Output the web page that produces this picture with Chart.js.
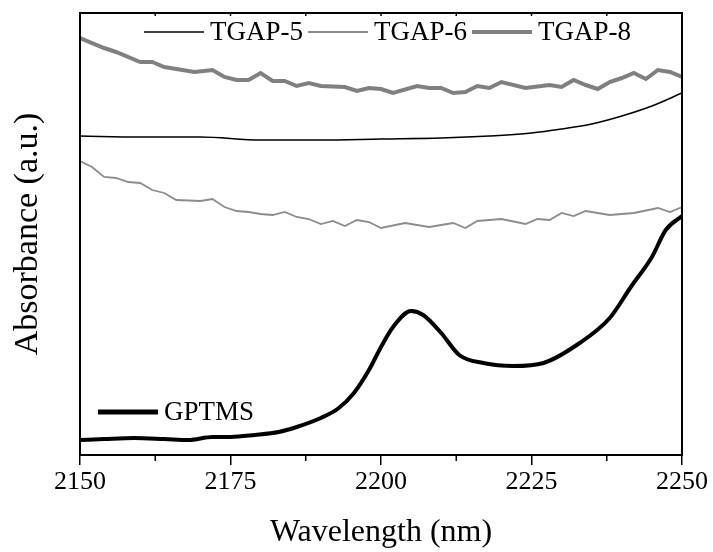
<!DOCTYPE html>
<html>
<head>
<meta charset="utf-8">
<script src="https://cdn.jsdelivr.net/npm/chart.js@4.4.1/dist/chart.umd.min.js"></script>
<style>
  html, body { margin: 0; padding: 0; background: #fff; }
  #wrap { width: 713px; height: 552px; }
</style>
</head>
<body>
<div id="wrap"><canvas id="absChart"></canvas></div>
<script>
// x-axis ticks (nm)
const xTicks = [2150, 2175, 2200, 2225, 2250];

// TGAP-8 (thick grey)
const tgap8Wl  = [2150, 2154, 2156, 2160, 2162, 2164, 2169, 2172, 2174, 2176, 2178, 2180, 2182, 2184, 2186, 2188, 2190, 2194, 2196, 2198, 2200, 2202, 2206, 2208, 2210, 2212, 2214, 2216, 2218, 2220, 2224, 2228, 2230, 2232, 2234, 2236, 2238, 2240, 2242, 2244, 2246, 2248, 2250];
const tgap8Abs = [417, 407, 403, 393, 393, 388, 383, 385, 378, 375, 375, 382, 374, 374, 369, 372, 369, 368, 364, 367, 366, 362, 369, 367, 367, 362, 363, 369, 367, 373, 367, 370, 368, 375, 370, 366, 373, 377, 382, 376, 385, 383, 378];

// TGAP-5 (thin black)
const tgap5Wl  = [2150, 2160, 2170, 2180, 2190, 2200, 2210, 2218, 2225, 2230, 2235, 2240, 2245, 2250];
const tgap5Abs = [319, 318, 318, 315, 315, 316, 317, 319, 322, 326, 331, 339, 349, 362];

// TGAP-6 (thin grey)
const tgap6Wl  = [2150, 2152, 2154, 2156, 2158, 2160, 2162, 2164, 2166, 2170, 2172, 2174, 2176, 2178, 2180, 2182, 2184, 2186, 2188, 2190, 2192, 2194, 2196, 2198, 2200, 2204, 2208, 2212, 2214, 2216, 2220, 2224, 2226, 2228, 2230, 2232, 2234, 2238, 2242, 2246, 2248, 2250];
const tgap6Abs = [294, 288, 278, 277, 273, 272, 265, 262, 255, 254, 256, 248, 244, 243, 241, 240, 243, 238, 236, 231, 234, 229, 235, 233, 227, 232, 228, 232, 227, 234, 236, 231, 236, 235, 242, 239, 244, 240, 242, 247, 243, 248];

// GPTMS (thick black)
const gptmsWl  = [2150, 2154, 2159, 2164, 2168, 2172, 2175, 2179, 2183, 2186, 2190, 2193, 2195.5, 2198, 2200, 2202, 2205, 2207, 2210, 2213, 2217, 2222, 2227, 2233, 2238, 2241.5, 2245, 2247.3, 2250];
const gptmsAbs = [15, 16, 17, 16, 15, 18, 18, 20, 23, 28, 37, 47, 62, 85, 108, 128, 144, 140, 122, 100, 92, 89, 92, 112, 137, 168, 198, 225, 239];

function pairs(xs, ys) {
    return xs.map((x, i) => ({x: x, y: ys[i]}));
}

const serif = "'Liberation Serif', 'Times New Roman', serif";

// frame, minor ticks and in-plot legends
const framePlugin = {
    id: 'frame',
    afterDraw(chart) {
        const ctx = chart.ctx;
        const a = chart.chartArea;
        const xs = chart.scales.x;
        ctx.save();
        ctx.strokeStyle = '#000';
        ctx.lineWidth = 2;
        ctx.strokeRect(a.left, a.top, a.right - a.left, a.bottom - a.top);
        ctx.lineWidth = 1.5;
        for (let v = 2150; v <= 2250; v += 12.5) {
            const px = xs.getPixelForValue(v);
            const major = (v - 2150) % 25 === 0;
            if (!major) {
                ctx.beginPath();
                ctx.moveTo(px, a.bottom);
                ctx.lineTo(px, a.bottom + 6);
                ctx.stroke();
            }
            ctx.beginPath();
            ctx.moveTo(px, a.top);
            ctx.lineTo(px, a.top + 3);
            ctx.stroke();
        }

        ctx.font = '27px ' + serif;
        ctx.textBaseline = 'middle';
        ctx.fillStyle = '#000';
        const drawItem = (ds, x, y) => {
            ctx.strokeStyle = ds.borderColor;
            ctx.lineWidth = ds.legendWidth;
            ctx.beginPath();
            ctx.moveTo(x, y);
            ctx.lineTo(x + 60, y);
            ctx.stroke();
            ctx.fillText(ds.label, x + 66, y + 1);
            return x + 66 + ctx.measureText(ds.label).width + 5;
        };
        const ds = chart.data.datasets;
        let x = a.left + 64;
        [0, 1, 2].forEach(i => { x = drawItem(ds[i], x, a.top + 19); });
        drawItem(ds[3], a.left + 18, a.bottom - 43);
        ctx.restore();
    }
};

const data = {
    datasets: [
        {label: 'TGAP-5', data: pairs(tgap5Wl, tgap5Abs), borderColor: '#000000', borderWidth: 1.5, legendWidth: 1.5, cubicInterpolationMode: 'monotone'},
        {label: 'TGAP-6', data: pairs(tgap6Wl, tgap6Abs), borderColor: '#8c8c8c', borderWidth: 1.8, legendWidth: 2, tension: 0},
        {label: 'TGAP-8', data: pairs(tgap8Wl, tgap8Abs), borderColor: '#808080', borderWidth: 4, legendWidth: 4, tension: 0},
        {label: 'GPTMS', data: pairs(gptmsWl, gptmsAbs), borderColor: '#000000', borderWidth: 4, legendWidth: 5, cubicInterpolationMode: 'monotone'}
    ]
};

const config = {
    type: 'line',
    data: data,
    options: {
        responsive: true,
        maintainAspectRatio: false,
        animation: false,
        elements: { point: { radius: 0 } },
        layout: { padding: { top: 13, right: 31, left: 0, bottom: 0 } },
        plugins: { legend: { display: false }, tooltip: { enabled: false } },
        scales: {
            x: {
                type: 'linear',
                min: 2150,
                max: 2250,
                afterBuildTicks: s => { s.ticks = xTicks.map(v => ({value: v})); },
                afterFit: s => { s.height = 97; },
                ticks: { font: { family: serif, size: 26 }, color: '#000', padding: 2, maxRotation: 0, callback: v => String(v) },
                grid: { drawOnChartArea: false, drawTicks: true, tickLength: 10, color: '#000', lineWidth: 1.5 },
                border: { color: '#000', width: 2 },
                title: { display: true, text: 'Wavelength (nm)', color: '#000', font: { family: serif, size: 32 }, padding: { top: 0, bottom: 0 } }
            },
            y: {
                min: 0,
                max: 442,
                afterFit: s => { s.width = 80; },
                ticks: { display: false },
                grid: { display: false },
                border: { color: '#000', width: 2 },
                title: { display: true, text: 'Absorbance (a.u.)', color: '#000', font: { family: serif, size: 34 }, padding: { top: 8, bottom: 0 } }
            }
        }
    },
    plugins: [framePlugin]
};

new Chart(document.getElementById('absChart'), config);
</script>
</body>
</html>
